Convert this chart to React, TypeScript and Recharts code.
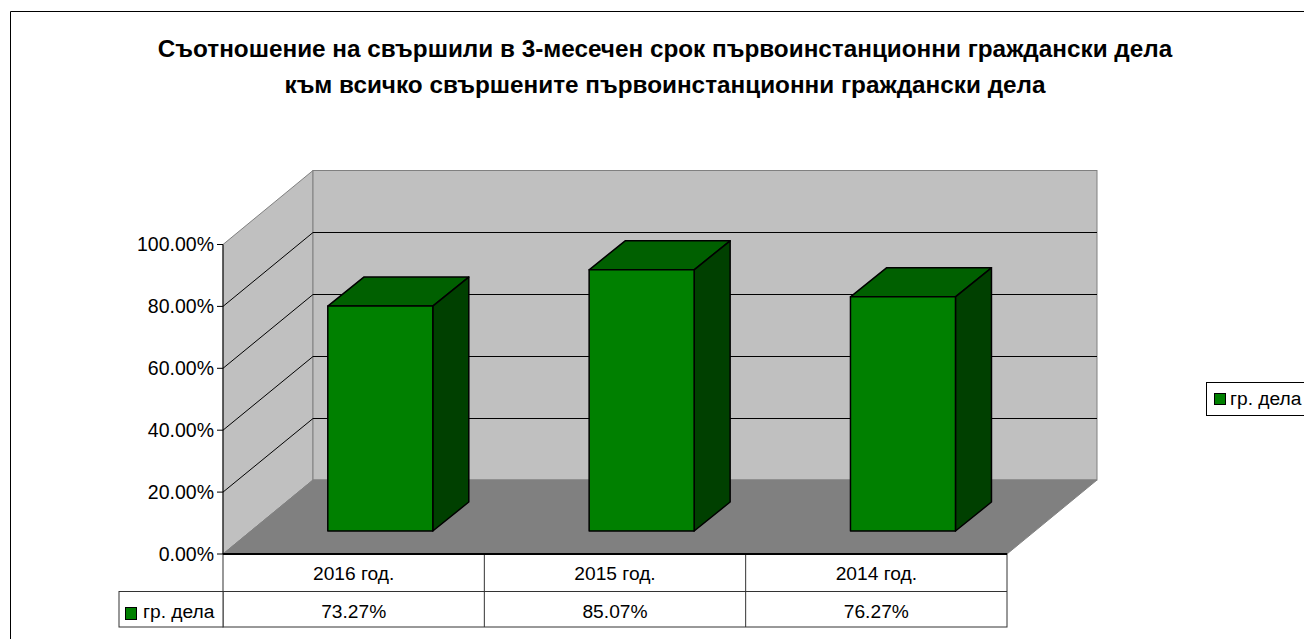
import { BarChart, Bar, XAxis, YAxis, CartesianGrid, Legend } from 'recharts';

const categories = ['2016 год.', '2015 год.', '2014 год.'];
const values = [73.27, 85.07, 76.27];
const seriesName = 'гр. дела';
const yTicks = [0, 20, 40, 60, 80, 100];
const gridValues = [20, 40, 60, 80];
const titleLines = [
  'Съотношение на свършили в 3-месечен срок първоинстанционни граждански дела',
  'към всичко свършените първоинстанционни граждански дела',
];

const data = categories.map((name, i) => ({ name, value: values[i] }));

const font = '"Liberation Sans", Arial, sans-serif';

// plot area (front plane of the fake 3D box)
const L = 223;
const R = 1007;
const T = 244.5;
const B = 554;
const DX = 90;
const DY = 74;

const rowY = 591.5;
const tableBottom = 627;
const keyLeft = 119;
const colW = (R - L) / 3;

const Bar3D = (props: any) => {
  const { x, y, width, height } = props;
  // bars stand part way into the floor, slightly foreshortened
  const fx = x + 26.8;
  const h3 = height * 0.992;
  const fy = y - 23 + (height - h3);
  const d = 36;
  const h = 29;
  const stroke = { stroke: '#000', strokeWidth: 1.5, strokeLinejoin: 'round' as const };
  return (
    <g>
      <polygon
        points={`${fx},${fy} ${fx + d},${fy - h} ${fx + width + d},${fy - h} ${fx + width},${fy}`}
        fill="#006000"
        {...stroke}
      />
      <polygon
        points={`${fx + width},${fy} ${fx + width + d},${fy - h} ${fx + width + d},${fy + h3 - h} ${fx + width},${fy + h3}`}
        fill="#004000"
        {...stroke}
      />
      <rect x={fx} y={fy} width={width} height={h3} fill="#008000" {...stroke} />
    </g>
  );
};

const GridLine = (props: any) => {
  const { x1, x2, y1 } = props;
  const backY = Math.round(y1 - DY) + 0.5;
  return (
    <g stroke="#000" strokeWidth={1} fill="none">
      <line x1={x1} y1={y1} x2={x1 + DX} y2={backY} />
      <line x1={x1 + DX} y1={backY} x2={x2 + DX} y2={backY} />
    </g>
  );
};

const TableTick = (props: any) => {
  const { x, payload, index } = props;
  return (
    <g fontFamily={font} fontSize={19.2} fill="#000" textAnchor="middle">
      <text x={x} y={580}>{payload.value}</text>
      <text x={x} y={618}>{values[index].toFixed(2)}%</text>
    </g>
  );
};

const LegendBox = () => (
  <div
    style={{
      boxSizing: 'border-box',
      width: 98,
      height: 34,
      border: '1px solid #000',
      borderRight: 'none',
      background: '#fff',
      display: 'flex',
      alignItems: 'center',
      fontFamily: font,
      fontSize: 19.2,
      color: '#000',
      whiteSpace: 'nowrap',
    }}
  >
    <span
      style={{
        display: 'inline-block',
        boxSizing: 'border-box',
        width: 12,
        height: 12,
        margin: '0 4px 0 7px',
        background: '#008000',
        border: '1px solid #000',
        flex: 'none',
      }}
    />
    {seriesName}
  </div>
);

// frame, title, walls, floor and table grid sit behind the chart svg
const Backdrop = () => (
  <svg width={1304} height={639} style={{ position: 'absolute', left: 0, top: 0 }}>
    <path d="M10.5 639 V11.5 H1304" fill="none" stroke="#000" strokeWidth={1} />
    <g fontFamily={font} fontSize={24.3} fontWeight="bold" fill="#000" textAnchor="middle">
      <text x={665} y={57}>{titleLines[0]}</text>
      <text x={665} y={93}>{titleLines[1]}</text>
    </g>

    <polygon
      points={`${L},${T} ${L + DX},${T - DY} ${L + DX},${B - DY} ${L},${B}`}
      fill="#c0c0c0"
      stroke="#808080"
      strokeWidth={1}
    />
    <rect x={L + DX} y={T - DY} width={R - L} height={B - T} fill="#c0c0c0" stroke="#808080" strokeWidth={1} />
    <polygon
      points={`${L},${B} ${L + DX},${B - DY} ${R + DX},${B - DY} ${R},${B}`}
      fill="#808080"
      stroke="#808080"
      strokeWidth={1}
    />

    <rect x={L} y={B} width={R - L} height={tableBottom - B} fill="#fff" stroke="#333" strokeWidth={1} />
    <rect x={keyLeft} y={rowY} width={L - keyLeft} height={tableBottom - rowY} fill="#fff" stroke="#333" strokeWidth={1} />
    <line x1={L} x2={R} y1={rowY} y2={rowY} stroke="#333" />
    <line x1={L + colW} x2={L + colW} y1={B} y2={tableBottom} stroke="#333" />
    <line x1={L + 2 * colW} x2={L + 2 * colW} y1={B} y2={tableBottom} stroke="#333" />
    <rect x={125.5} y={607.5} width={11} height={12} fill="#008000" stroke="#000" />
    <text x={143} y={618} fontFamily={font} fontSize={19.2} fill="#000">{seriesName}</text>
  </svg>
);

export default function App() {
  return (
    <div style={{ position: 'absolute', left: 0, top: 0, width: 1304, height: 639, overflow: 'hidden', background: '#fff' }}>
      <Backdrop />
      <BarChart
        width={1304}
        height={639}
        data={data}
        margin={{ top: T, right: 1304 - R, bottom: 639 - B - 50, left: L - 80 }}
      >
        <CartesianGrid
          vertical={false}
          horizontal={GridLine as any}
          horizontalValues={gridValues}
        />
        <XAxis
          dataKey="name"
          height={50}
          axisLine={{ stroke: '#000', strokeWidth: 2 }}
          tickLine={false}
          tick={TableTick as any}
          interval={0}
        />
        <YAxis
          width={80}
          domain={[0, 100]}
          ticks={yTicks}
          tickFormatter={(v: number) => `${v.toFixed(2)}%`}
          axisLine={{ stroke: '#000', strokeWidth: 1 }}
          tickLine={{ stroke: '#000' }}
          tickSize={6}
          tickMargin={3}
          tick={{ fontFamily: font, fontSize: 19.5, fill: '#000' }}
        />
        <Legend
          layout="vertical"
          align="center"
          verticalAlign="middle"
          content={<LegendBox />}
          wrapperStyle={{ left: 1206, top: 382, width: 98, bottom: 'auto' }}
        />
        <Bar dataKey="value" name={seriesName} barSize={105} shape={Bar3D as any} isAnimationActive={false} />
      </BarChart>
    </div>
  );
}
